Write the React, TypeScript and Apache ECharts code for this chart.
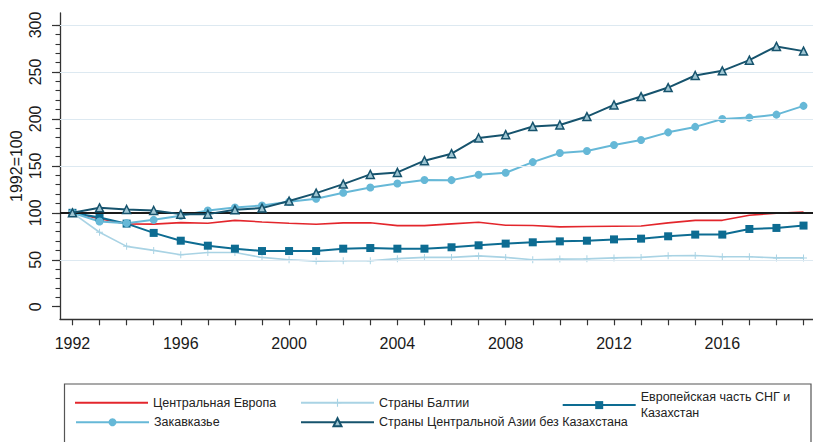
import React, { useEffect, useRef } from "react";
import * as echarts from "echarts";

const years = [
  1992, 1993, 1994, 1995, 1996, 1997, 1998, 1999, 2000, 2001, 2002, 2003, 2004, 2005,
  2006, 2007, 2008, 2009, 2010, 2011, 2012, 2013, 2014, 2015, 2016, 2017, 2018, 2019,
];
const xLabelYears = [1992, 1996, 2000, 2004, 2008, 2012, 2016];
const yLabelValues = [0, 50, 100, 150, 200, 250, 300];
const yMinorTicks = [0, 10, 20, 30, 40, 50, 60, 70, 80, 90, 100, 110, 120, 130, 140, 150, 160, 170, 180, 190, 200, 210, 220, 230, 240, 250, 260, 270, 280, 290, 300];
const gridValues = [50, 150, 200, 250, 300];
const baseValue = 100;

const centralEurope = [100, 93.6, 88.2, 88, 89.6, 88.9, 92, 90.3, 88.9, 87.8, 89.3, 89.5, 86.4, 86.4, 88.2, 90, 86.8, 86.5, 85, 85.4, 85.7, 86, 89.3, 92, 92, 97.4, 99.6, 100.7];
const baltic = [100, 79.3, 64.3, 60, 55.4, 57.8, 57.8, 52.5, 50, 48.6, 49, 49, 51.2, 52.5, 52.5, 54.1, 52.5, 50, 50.7, 51, 52, 52.5, 54.2, 54.6, 53.2, 53.2, 52, 52];
const euroCIS = [100, 95, 88.5, 78.6, 70.3, 65, 61.8, 59.3, 59.3, 59.3, 61.8, 62.5, 61.8, 61.8, 63.3, 65.4, 67.2, 68.6, 69.6, 70.3, 71.7, 72.5, 75, 76.8, 76.8, 82.8, 83.9, 86.4];
const caucasus = [100, 90.7, 89, 92.5, 96.8, 102.5, 105.7, 107.8, 111.7, 115, 121.3, 127, 131.3, 134.9, 134.8, 140.6, 142.7, 154, 163.7, 165.8, 172.2, 177.6, 185.7, 191.5, 200, 201.4, 204.6, 213.9];
const centralAsia = [100, 105.3, 103.5, 102.5, 98.6, 98.6, 103.2, 105, 112.5, 121, 130.6, 140.9, 143, 155.5, 163, 179.7, 183.2, 192, 193.6, 202.5, 214.9, 223.8, 233.4, 246.2, 251.2, 262.6, 277.2, 272.2];

const names = [
  "Центральная Европа",
  "Страны Балтии",
  "Европейская часть СНГ и\nКазахстан",
  "Закавказье",
  "Страны Центральной Азии без Казахстана",
];

const pair = (vals: number[]) => years.map((y, i) => [y, vals[i]]);

const SANS = "'Liberation Sans', Arial, sans-serif";
const PLUS = "path://M-0.14,-1 H0.14 V-0.14 H1 V0.14 H0.14 V1 H-0.14 V0.14 H-1 V-0.14 H-0.14 Z";

export default function App() {
  const ref = useRef<HTMLDivElement>(null);
  useEffect(() => {
    if (!ref.current) return;
    const chart = echarts.init(ref.current, null, { renderer: "svg" });
    const legendText = { fontFamily: SANS, fontSize: 12.5, color: "#222", lineHeight: 16.6 };
    const legendBase = { orient: "horizontal", padding: 0, itemWidth: 73, itemHeight: 10, itemGap: 0, textStyle: legendText, selectedMode: false };
    chart.setOption({
      animation: false,
      backgroundColor: "#fff",
      grid: { left: 60, right: 0, top: 13, bottom: 122.7, containLabel: false, outerBoundsMode: "none" },
      xAxis: {
        type: "value",
        min: 1991.54,
        max: 2019.35,
        axisLine: { show: true, onZero: false, lineStyle: { color: "#333", width: 1.3 } },
        axisTick: { show: true, customValues: years, length: 6, lineStyle: { color: "#333", width: 1.2 } },
        axisLabel: {
          customValues: xLabelYears,
          formatter: (v: number) => String(v),
          fontFamily: SANS,
          fontSize: 16,
          color: "#1a1a1a",
          margin: 16,
        },
        splitLine: { show: false },
      },
      yAxis: [
        {
          type: "value",
          min: -13.4,
          max: 312.8,
          position: "left",
          axisLine: { show: true, lineStyle: { color: "#333", width: 1.3 } },
          axisTick: { show: true, customValues: yMinorTicks, length: 4.5, lineStyle: { color: "#333", width: 1.1 } },
          axisLabel: {
            customValues: yLabelValues,
            rotate: 90,
            formatter: (v: number) => String(v),
            fontFamily: SANS,
            fontSize: 16,
            color: "#1a1a1a",
            margin: 17,
          },
          splitLine: { show: false },
          name: "1992=100",
          nameLocation: "middle",
          nameRotate: 90,
          nameGap: 36,
          nameMoveOverlap: false,
          nameTextStyle: { fontFamily: SANS, fontSize: 16, color: "#1a1a1a" },
        },
        {
          type: "value",
          min: -13.4,
          max: 312.8,
          position: "left",
          offset: 0,
          axisLine: { show: false },
          axisTick: { show: true, customValues: yLabelValues, length: 8, lineStyle: { color: "#333", width: 1.2 } },
          axisLabel: { show: false },
          splitLine: { show: false },
        },
      ],
      legend: [
        { ...legendBase, itemHeight: 2, left: 75, top: 394.4, data: [{ name: names[0], icon: "rect" }] },
        { ...legendBase, left: 300, top: 394.4, data: [names[1]] },
        { ...legendBase, left: 561.7, top: 388.5, data: [names[2]] },
        { ...legendBase, left: 75, top: 414, data: [names[3]] },
        { ...legendBase, left: 300, top: 414, data: [names[4]] },
      ],
      graphic: [
        {
          type: "rect",
          shape: { x: 64.5, y: 384, width: 746.5, height: 80 },
          style: { fill: "none", stroke: "#555", lineWidth: 1.2 },
          silent: true,
        },
      ],
      series: [
        {
          type: "line",
          name: "grid",
          data: [],
          z: 1,
          silent: true,
          markLine: {
            silent: true,
            symbol: "none",
            label: { show: false },
            animation: false,
            data: [
              ...gridValues.map((v) => ({ yAxis: v, lineStyle: { color: "#dde9f1", width: 1, type: "solid" } })),
            ],
          },
        },
        {
          type: "line",
          name: names[0],
          data: pair(centralEurope),
          symbol: "none",
          lineStyle: { color: "#e3262c", width: 1.6 },
          itemStyle: { color: "#e3262c" },
          z: 3,
        },
        {
          type: "line",
          name: names[1],
          data: pair(baltic),
          symbol: PLUS,
          symbolSize: 7,
          lineStyle: { color: "#a9d3e4", width: 1.6 },
          itemStyle: { color: "#a9d3e4" },
          z: 3,
        },
        {
          type: "line",
          name: names[2],
          data: pair(euroCIS),
          symbol: "rect",
          symbolSize: 8,
          lineStyle: { color: "#0d6c92", width: 2 },
          itemStyle: { color: "#0d6c92" },
          z: 4,
        },
        {
          type: "line",
          name: names[3],
          data: pair(caucasus),
          symbol: "circle",
          symbolSize: 8,
          lineStyle: { color: "#66b8d7", width: 2 },
          itemStyle: { color: "#66b8d7" },
          z: 4,
        },
        {
          type: "line",
          name: names[4],
          data: pair(centralAsia),
          symbol: "triangle",
          symbolSize: 8,
          lineStyle: { color: "#16536d", width: 2 },
          itemStyle: { color: "#9fc6d3", borderColor: "#16536d", borderWidth: 1.5 },
          z: 5,
          markLine: {
            silent: true,
            symbol: "none",
            label: { show: false },
            animation: false,
            data: [{ yAxis: baseValue, lineStyle: { color: "#1a1a1a", width: 2, type: "solid" } }],
          },
        },
      ],
    });
    return () => chart.dispose();
  }, []);
  return <div ref={ref} style={{ position: "fixed", left: 0, top: 0, width: 813, height: 442 }} />;
}
